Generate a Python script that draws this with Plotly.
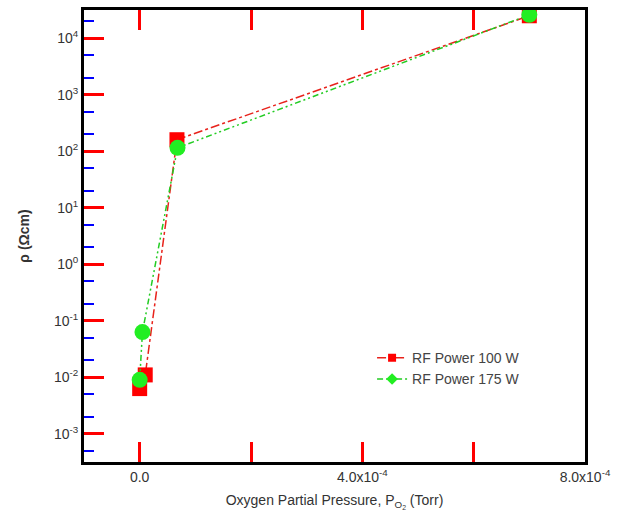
import plotly.graph_objects as go

# Data
p_o2_100 = [0.0, 1.0e-5, 6.7e-5, 7.0e-4]
rho_100 = [0.0063, 0.011, 160, 2.5e4]
p_o2_175 = [0.0, 5.0e-6, 6.8e-5, 7.0e-4]
rho_175 = [0.009, 0.063, 115, 2.6e4]

y_decades = [-3, -2, -1, 0, 1, 2, 3, 4]
y_tickvals = [10.0 ** d for d in y_decades]
y_ticktext = ["10<sup>-3</sup>", "10<sup>-2</sup>", "10<sup>-1</sup>", "10<sup>0</sup>",
              "10<sup>1</sup>", "10<sup>2</sup>", "10<sup>3</sup>", "10<sup>4</sup>"]
x_tickvals = [0.0, 2.0e-4, 4.0e-4, 6.0e-4, 8.0e-4]
x_ticktext = ["0.0", "", "4.0x10<sup>-4</sup>", "", "8.0x10<sup>-4</sup>"]

red_line = dict(color="#e8221b", width=1.5, dash="dashdot")
green_line = dict(color="#22cc22", width=1.5, dash="6px,3px,2px,3px,2px,3px")

fig = go.Figure()
fig.add_trace(go.Scatter(
    x=p_o2_100, y=rho_100, mode="lines+markers", showlegend=False,
    line=red_line, marker=dict(symbol="square", size=15, color="#ff0000"),
))
fig.add_trace(go.Scatter(
    x=p_o2_175, y=rho_175, mode="lines+markers", showlegend=False,
    line=green_line, marker=dict(symbol="circle", size=16, color="#22ee22"),
))
fig.add_trace(go.Scatter(
    x=[None], y=[None], mode="lines+markers", name="RF Power 100 W",
    line=red_line, marker=dict(symbol="square", size=8, color="#ff0000"),
))
fig.add_trace(go.Scatter(
    x=[None], y=[None], mode="lines+markers", name="RF Power 175 W",
    line=green_line, marker=dict(symbol="diamond", size=9, color="#22ee22"),
))

fig.update_layout(
    width=618, height=514,
    margin=dict(l=84, r=33, t=7, b=49),
    paper_bgcolor="white", plot_bgcolor="white",
    font=dict(family="Liberation Sans, Arial, sans-serif", size=14, color="#333333"),
    showlegend=True,
    legend=dict(x=0.575, y=0.265, xanchor="left", yanchor="top",
                bgcolor="rgba(0,0,0,0)", font=dict(size=14, color="#444444"),
                tracegroupgap=0),
)
fig.update_xaxes(
    range=[-1.0e-4, 8.0e-4], tickvals=x_tickvals, ticktext=x_ticktext,
    showline=True, linecolor="black", linewidth=3, mirror="ticks",
    ticks="inside", ticklen=20, tickwidth=3, tickcolor="red",
    showgrid=False, zeroline=False,
    title=dict(text="Oxygen Partial Pressure, P<sub>O<sub>2</sub></sub> (Torr)", font=dict(size=14, color="#333333"), standoff=12),
)
fig.update_yaxes(
    type="log", range=[-3.5, 4.5], tickvals=y_tickvals, ticktext=y_ticktext,
    showline=True, linecolor="black", linewidth=3, mirror=True,
    ticks="inside", ticklen=20, tickwidth=3, tickcolor="red",
    minor=dict(ticks="inside", ticklen=10, tickwidth=2, tickcolor="blue", showgrid=False),
    showgrid=False, zeroline=False,
    title=dict(text="<b>ρ (Ωcm)</b>", font=dict(size=14, color="#333333"), standoff=22),
)

fig.write_html("out.html")
